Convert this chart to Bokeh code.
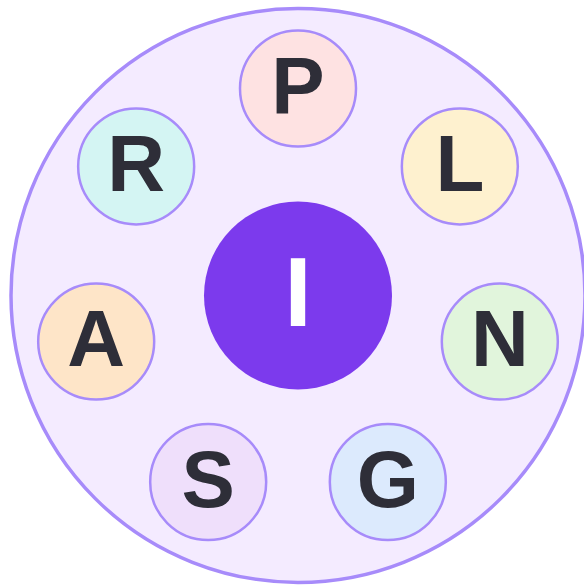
import math
from bokeh.plotting import figure
from bokeh.models import ColumnDataSource, Range1d
from bokeh.core.properties import value
from bokeh.embed import file_html
from bokeh.resources import INLINE

# Data
outer_letters = ["P", "L", "N", "G", "S", "A", "R"]
outer_fills = ["#fee2e2", "#fef1cf", "#e1f5dc", "#dceafd", "#efdffb", "#fee5c8", "#d4f5f3"]
center_letter = "I"
center_fill = "#7c3aed"

ring_r = 207
petal_r = 58
hub_r = 94
board_r = 287

n = len(outer_letters)
xs, ys = [], []
for i in range(n):
    a = math.radians(90 - i * 360 / n)
    xs.append(ring_r * math.cos(a))
    ys.append(ring_r * math.sin(a))

src = ColumnDataSource(dict(x=xs, y=ys, letter=outer_letters, fill=outer_fills))
hub_src = ColumnDataSource(dict(x=[0], y=[0], letter=[center_letter]))

p = figure(width=584, height=586, output_backend="svg", toolbar_location=None,
           x_range=Range1d(-297.5, 286.5), y_range=Range1d(-291, 295),
           min_border=0, outline_line_color=None)
p.axis.visible = False
p.grid.visible = False
p.background_fill_color = "white"
p.border_fill_color = "white"

p.circle(x=[0], y=[0], radius=board_r, fill_color="#f4ebff", line_color="#a78bfa", line_width=3.5)
p.circle(x="x", y="y", radius=petal_r, fill_color="fill", line_color="#a78bfa", line_width=2.5, source=src)
p.circle(x="x", y="y", radius=hub_r, fill_color=center_fill, line_color=None, source=hub_src)

p.text(x="x", y="y", text="letter", source=src, text_align="center", text_baseline="middle",
       y_offset=-3,
       text_font=value("Liberation Sans"), text_font_style="bold", text_font_size="80px",
       text_color="#2e2e38")
p.text(x="x", y="y", text="letter", source=hub_src, text_align="center", text_baseline="middle",
       y_offset=-4,
       text_font=value("Liberation Sans"), text_font_style="bold", text_font_size="99px",
       text_color="white")

open("out.html", "w").write(file_html(p, INLINE))
